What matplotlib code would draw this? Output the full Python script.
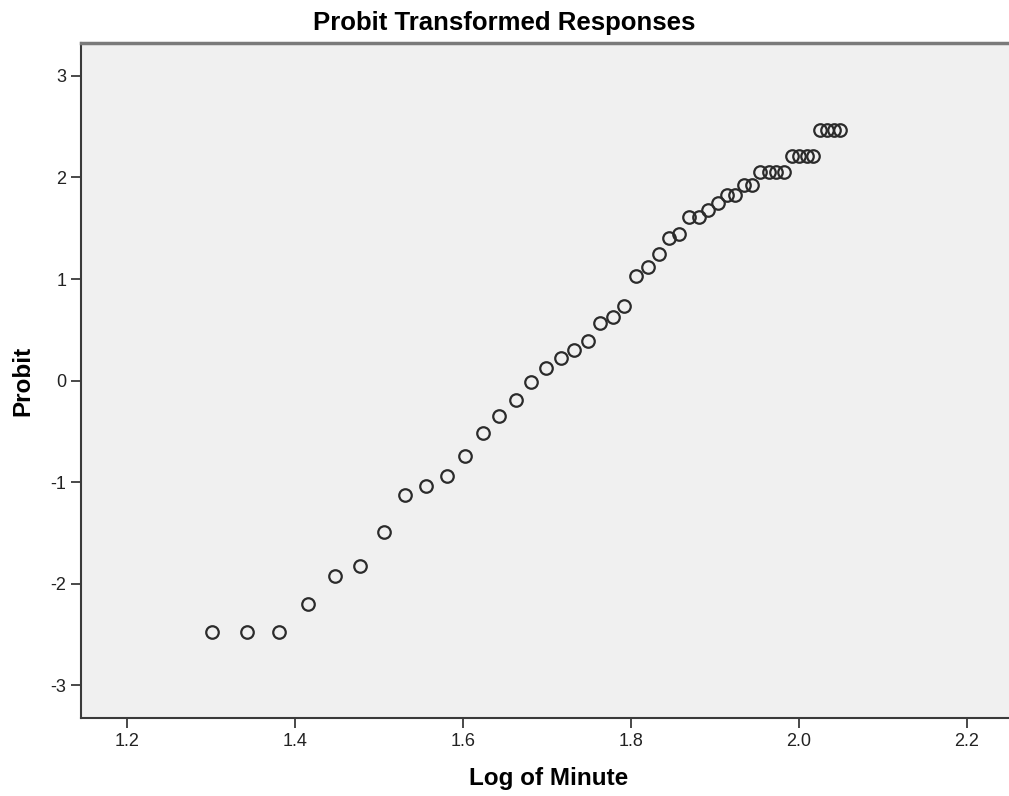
import matplotlib
matplotlib.use("Agg")
import matplotlib.pyplot as plt

# Data
log_minute = [1.301, 1.342, 1.380, 1.415, 1.447, 1.477, 1.505, 1.531, 1.556, 1.580,
              1.602, 1.623, 1.643, 1.663, 1.681, 1.699, 1.716, 1.732, 1.748, 1.763,
              1.778, 1.792, 1.806, 1.820, 1.833, 1.845, 1.857, 1.869, 1.881, 1.892,
              1.903, 1.914, 1.924, 1.934, 1.944, 1.954, 1.964, 1.973, 1.982, 1.991,
              2.000, 2.009, 2.017, 2.025, 2.033, 2.041, 2.049]
probit = [-2.47, -2.47, -2.47, -2.20, -1.92, -1.82, -1.49, -1.13, -1.04, -0.935,
          -0.74, -0.515, -0.35, -0.195, -0.01, 0.12, 0.22, 0.305, 0.395, 0.565,
          0.625, 0.73, 1.025, 1.115, 1.245, 1.40, 1.445, 1.61, 1.61, 1.68,
          1.75, 1.83, 1.83, 1.93, 1.93, 2.05, 2.05, 2.05, 2.05, 2.21,
          2.21, 2.21, 2.21, 2.47, 2.47, 2.47, 2.47]

x_ticks = [1.2, 1.4, 1.6, 1.8, 2.0, 2.2]
x_tick_labels = ["1.2", "1.4", "1.6", "1.8", "2.0", "2.2"]
y_ticks = [-3, -2, -1, 0, 1, 2, 3]
y_tick_labels = ["-3", "-2", "-1", "0", "1", "2", "3"]

plt.rcParams['font.family'] = ['Liberation Sans', 'DejaVu Sans']

fig = plt.figure(figsize=(10.09, 7.96), dpi=100)
ax = fig.add_axes([0.080, 0.098, 0.920, 0.8476])
ax.set_facecolor('#F0F0F0')

ax.plot(log_minute, probit, linestyle='none', marker='o', markersize=9,
        markerfacecolor='none', markeredgecolor='#2b2b2b', markeredgewidth=1.6)

ax.set_xlim(1.1443, 2.250)
ax.set_ylim(-3.32, 3.32)
ax.set_xticks(x_ticks)
ax.set_xticklabels(x_tick_labels)
ax.set_yticks(y_ticks)
ax.set_yticklabels(y_tick_labels)

for side in ['top', 'left', 'bottom']:
    ax.spines[side].set_color('#3a3a3a')
    ax.spines[side].set_linewidth(1.5)
ax.spines['top'].set_color('#7a7a7a')
ax.spines['top'].set_linewidth(2.5)
ax.spines['right'].set_visible(False)

ax.tick_params(axis='both', direction='out', length=7.5, width=1.3,
               color='#3a3a3a', labelsize=13, labelcolor='#222222', pad=3)

fig.text(0.5, 0.971, "Probit Transformed Responses", ha='center', va='center',
         fontsize=18.5, fontweight='bold')
fig.text(0.5435, 0.0214, "Log of Minute", ha='center', va='center',
         fontsize=17.5, fontweight='bold')
fig.text(0.0228, 0.522, "Probit", ha='center', va='center', rotation=90,
         fontsize=17.5, fontweight='bold')

fig.savefig("out.png", dpi=100, facecolor='white')
